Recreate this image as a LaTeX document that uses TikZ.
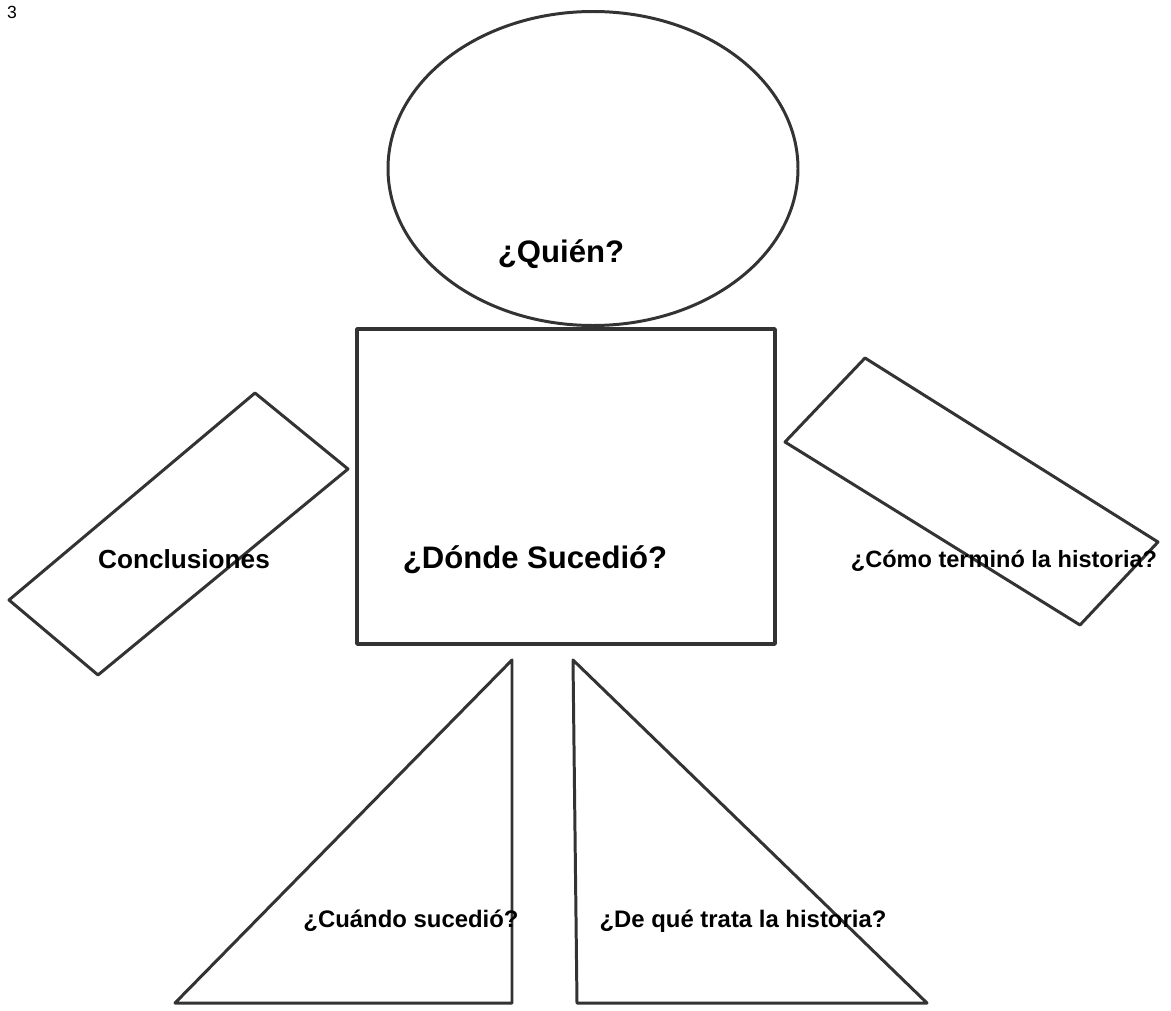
\documentclass[tikz,border=0pt]{standalone}
\usepackage{fontspec}
\setmainfont{Liberation Sans}
\tikzset{
  shp/.style={draw=black!80, line width=1.7pt, line join=round},
  lbl/.style={inner sep=0pt, anchor=base},
}
\begin{document}
\begin{tikzpicture}[x=0.02cm,y=-0.02cm]
\useasboundingbox (0,0) rectangle (1171,1011);

\node[lbl, font=\fontsize{10}{12}\selectfont] (N) at (12,18) {3};

% body
\draw[shp] (593,168.5) ellipse [x radius=205, y radius=157];
\draw[shp, line width=2pt] (357,329) rectangle (775,644);
\draw[shp] (255,393) -- (348,469) -- (98,675) -- (9,600) -- cycle;
\draw[shp] (865,358) -- (1158,542) -- (1080,625) -- (785,442) -- cycle;
\draw[shp] (512,660) -- (512,1003) -- (175,1003) -- cycle;
\draw[shp] (573,660) -- (927,1003) -- (577,1003) -- cycle;

\node[lbl, font=\bfseries\fontsize{17.7}{20}\selectfont] (Q) at (561,262) {¿Quién?};
\node[lbl, font=\bfseries\fontsize{17.7}{20}\selectfont] (D) at (535,568) {¿Dónde Sucedió?};
\node[lbl, font=\bfseries\fontsize{14.9}{17}\selectfont] (C) at (184,568) {Conclusiones};
\node[lbl, font=\bfseries\fontsize{13.4}{16}\selectfont] (T) at (1004,567) {¿Cómo terminó la historia?};
\node[lbl, font=\bfseries\fontsize{13.6}{16}\selectfont] (W) at (411,927) {¿Cuándo sucedió?};
\node[lbl, font=\bfseries\fontsize{13.6}{16}\selectfont] (H) at (743,927) {¿De qué trata la historia?};

\end{tikzpicture}
\end{document}
